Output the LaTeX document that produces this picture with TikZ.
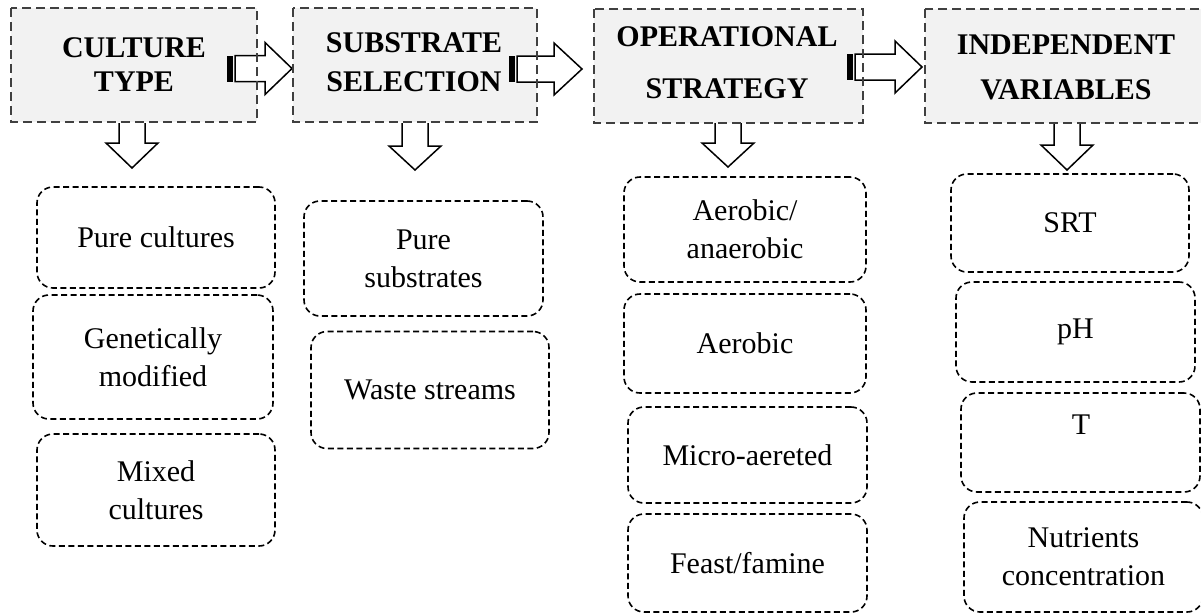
\documentclass[tikz,border=0pt]{standalone}
\usepackage{fontspec}
\setmainfont{Liberation Serif}
\definecolor{hdrgray}{HTML}{404040}
\definecolor{hdrfill}{HTML}{F2F2F2}
\tikzset{
  hdrbox/.style={fill=hdrfill, draw=none, inner sep=0pt, outer sep=0pt, minimum height=114pt},
  hdrborder/.style={draw=hdrgray, line width=2pt, dash pattern=on 9pt off 5pt},
  hdrtxt/.style={font=\fontsize{30}{36}\selectfont\bfseries, anchor=base, inner sep=0pt},
  subbox/.style={draw=black, line width=1.6pt, dash pattern=on 6pt off 3.5pt, rounded corners=16pt,
    align=center, font=\fontsize{30}{38}\selectfont, inner sep=0pt, outer sep=0pt},
  subtxt/.style={font=\fontsize{30}{38}\selectfont, inner sep=0pt},
  blockarrow/.style={draw=black, line width=1.5pt, fill=white, line join=miter},
}
\begin{document}
\begin{tikzpicture}[x=1pt,y=-1pt]
\useasboundingbox (0,0) rectangle (1201,613);
\fill[white] (0,0) rectangle (1201,613);

% header boxes (fill)
\node[hdrbox, minimum width=246pt] (h1) at (134,65) {};
\node[hdrbox, minimum width=244pt] (h2) at (415,65) {};
\node[hdrbox, minimum width=269pt] (h3) at (728.5,66) {};
\node[hdrbox, minimum width=282pt] (h4) at (1066,66) {};

% right block arrows (striped tail)
\foreach \n/\t/\h/\p/\c in {1/227/265/292/68.5, 2/509/554/582/69, 3/847/895/922/67} {
  \coordinate (ra\n) at (\t,\c);
  \fill[black] (\t,\c-13) rectangle (\t+5.5,\c+13);
  \draw[blockarrow] (\t+8,\c-13) -- (\h,\c-13) -- (\h,\c-26) -- (\p,\c) -- (\h,\c+26) -- (\h,\c+13) -- (\t+8,\c+13) -- cycle;
}

% down block arrows
\foreach \n/\c/\hs/\tp in {1/132/143/168, 2/415/146/170, 3/728/143/167, 4/1067/145/170} {
  \coordinate (da\n) at (\c,\tp);
  \draw[blockarrow] (\c-13,123) -- (\c-13,\hs) -- (\c-26,\hs) -- (\c,\tp) -- (\c+26,\hs) -- (\c+13,\hs) -- (\c+13,123);
}

% header borders on top
\foreach \b in {h1,h2,h3,h4} {
  \draw[hdrborder] (\b.north west) rectangle (\b.south east);
}

% header texts
\node[hdrtxt] (h1a) at (134,57) {CULTURE};
\node[hdrtxt] (h1b) at (134,91) {TYPE};
\node[hdrtxt] (h2a) at (414,52) {SUBSTRATE};
\node[hdrtxt] (h2b) at (414,91) {SELECTION};
\node[hdrtxt] (h3a) at (727,46) {OPERATIONAL};
\node[hdrtxt] (h3b) at (727,98) {STRATEGY};
\node[hdrtxt] (h4a) at (1066,54) {INDEPENDENT};
\node[hdrtxt] (h4b) at (1066,99) {VARIABLES};

% column 1
\node[subbox, minimum width=238pt, minimum height=101pt] (c1a) at (156,237.5) {Pure cultures};
\node[subbox, minimum width=240pt, minimum height=124pt] (c1b) at (153,357) {Genetically\\modified};
\node[subbox, minimum width=238pt, minimum height=112pt] (c1c) at (156,490) {Mixed\\cultures};

% column 2
\node[subbox, minimum width=239pt, minimum height=115pt] (c2a) at (423.5,258.5) {Pure\\substrates};
\node[subbox, minimum width=238pt, minimum height=117pt] (c2b) at (430,390) {Waste streams};

% column 3
\node[subbox, minimum width=242pt, minimum height=105pt] (c3a) at (745,229.5) {Aerobic/\\anaerobic};
\node[subbox, minimum width=242pt, minimum height=99pt] (c3b) at (745,343.5) {Aerobic};
\node[subbox, minimum width=239pt, minimum height=96pt] (c3c) at (747.5,455) {Micro-aereted};
\node[subbox, minimum width=239pt, minimum height=98pt] (c3d) at (747.5,563) {Feast/famine};

% column 4
\node[subbox, minimum width=238pt, minimum height=98pt] (c4a) at (1070,223) {SRT};
\node[subbox, minimum width=239pt, minimum height=100pt] (c4b) at (1075.5,332) {pH};
\node[subbox, minimum width=239pt, minimum height=99pt] (c4c) at (1080.5,442.5) {};
\node[subtxt] (c4ct) at (1081,425) {T};
\node[subbox, minimum width=239pt, minimum height=110pt] (c4d) at (1083.5,557) {Nutrients\\concentration};
\end{tikzpicture}
\end{document}
